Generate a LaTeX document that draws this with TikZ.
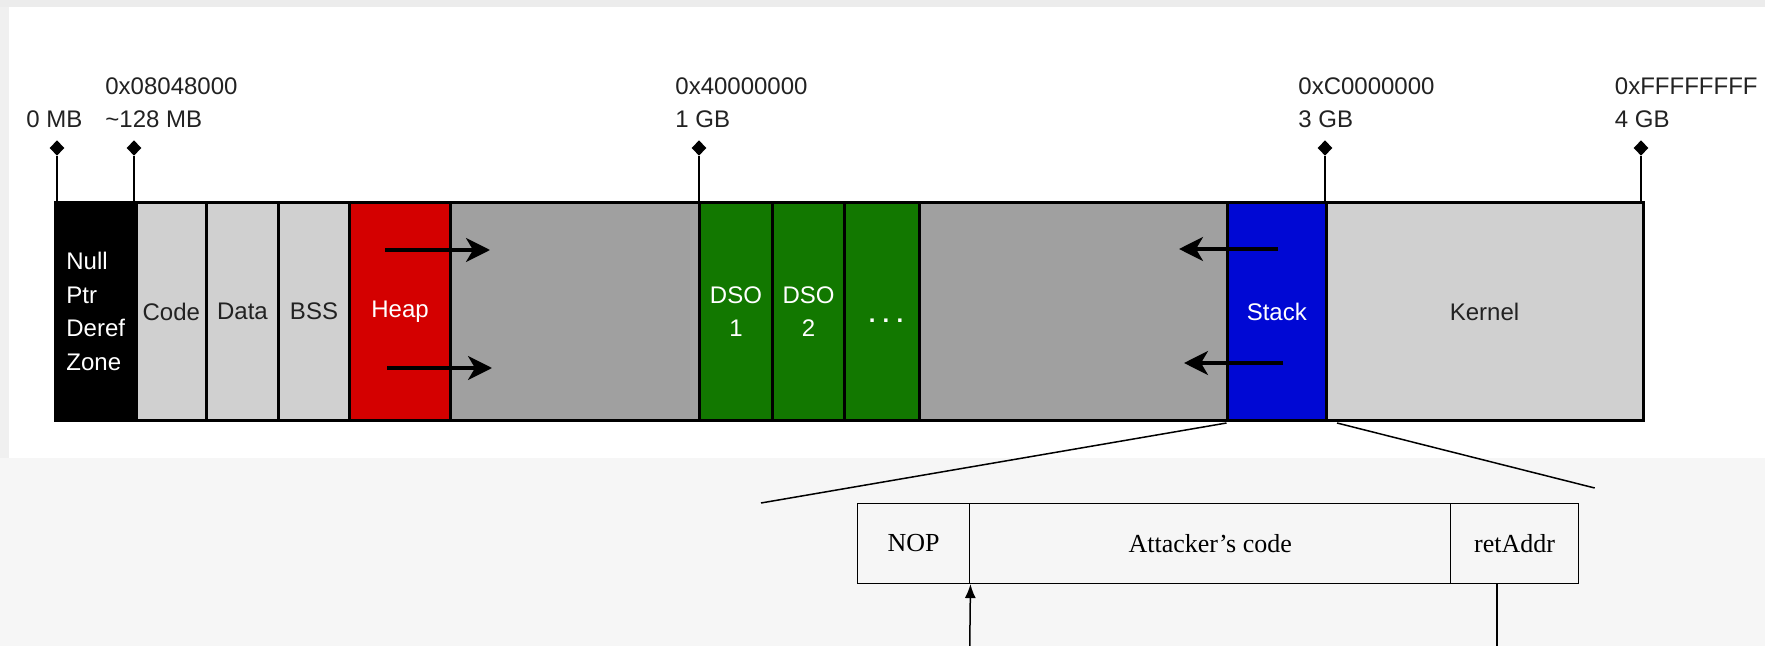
\documentclass[tikz,border=0pt]{standalone}
\usepackage{fontspec}
\setmainfont{Liberation Sans}
\newfontfamily\tnr{Liberation Serif}
\usetikzlibrary{shapes.geometric,arrows.meta}
\definecolor{cred}{HTML}{D40000}
\definecolor{cgreen}{HTML}{127800}
\definecolor{cblue}{HTML}{0008D4}
\definecolor{clight}{HTML}{D0D0D0}
\definecolor{cdark}{HTML}{A0A0A0}
\definecolor{ctop}{HTML}{ECECEC}
\definecolor{cleft}{HTML}{F0F0F0}
\definecolor{cbot}{HTML}{F6F6F6}
\definecolor{ctext}{HTML}{222222}
\begin{document}
\begin{tikzpicture}[x=0.5pt,y=-0.5pt,
  seg/.style={draw=black, line width=1.5pt, minimum height=108.5pt, inner sep=0pt,
    font=\fontsize{12}{16.8}\selectfont, align=center, text=ctext},
  tickmark/.style={diamond, fill=black, draw=none, inner sep=0pt, minimum width=7.5pt, minimum height=7.8pt},
  tickline/.style={line width=1.2pt, draw=black},
  ticklabel/.style={anchor=base west, inner sep=0pt, font=\fontsize{12}{14}\selectfont, text=ctext},
  growarrow/.style={line width=1.6pt, -{Stealth[length=12pt,width=12pt,inset=3.5pt]}},
  zoomline/.style={line width=0.75pt},
  cell/.style={draw=black, line width=0.75pt, minimum height=40pt, inner sep=0pt,
    font=\tnr\fontsize{13}{15}\selectfont},
]
\useasboundingbox (0,0) rectangle (1765,646);
% background
\fill[cbot] (0,0) rectangle (1765,646);
\fill[ctop] (0,0) rectangle (1765,7);
\fill[cleft] (0,7) rectangle (9,457.7);
\fill[white] (9,7) rectangle (1765,457.7);

% memory bar segments
\node[seg, fill=black, text=white, align=left, minimum width=40.25pt] (null) at (95.75,311.5) {Null\\Ptr\\Deref\\Zone};
\node[seg, fill=clight, minimum width=35.35pt] (code) at (171.35,311.5) {Code};
\node[seg, fill=clight, minimum width=35.75pt] (data) at (242.45,311.5) {Data};
\node[seg, fill=clight, minimum width=35.8pt] (bss) at (314,311.5) {BSS};
\node[seg, fill=cred, text=white, minimum width=50.3pt] (heap) at (400.1,311.5) {Heap};
\node[seg, fill=cdark, minimum width=124.5pt] (gapa) at (574.9,311.5) {};
\node[seg, fill=cgreen, text=white, minimum width=36.55pt] (dsoa) at (735.95,311.5) {DSO\\1};
\node[seg, fill=cgreen, text=white, minimum width=36.15pt] (dsob) at (808.65,311.5) {DSO\\2};
\node[seg, fill=cgreen, minimum width=37.1pt] (dsoc) at (881.9,311.5) {};
\node[seg, fill=cdark, minimum width=154.25pt] (gapb) at (1073.25,311.5) {};
\node[seg, fill=cblue, text=white, minimum width=49.25pt] (stack) at (1276.75,311.5) {Stack};
\node[seg, fill=clight, minimum width=158.5pt] (kernel) at (1484.5,311.5) {Kernel};
\node[anchor=base, inner sep=0pt, text=white, font=\bfseries\fontsize{12}{14}\selectfont] (dots) at (886,322) {.\kern3.6pt.\kern3.6pt.};

% growth arrows
\coordinate (hast) at (385,250); \coordinate (haen) at (490,250);
\coordinate (hbst) at (387,368); \coordinate (hben) at (492,368);
\coordinate (sast) at (1278,249); \coordinate (saen) at (1179,249);
\coordinate (sbst) at (1283,363); \coordinate (sben) at (1184,363);
\draw[growarrow] (hast) -- (haen);
\draw[growarrow] (hbst) -- (hben);
\draw[growarrow] (sast) -- (saen);
\draw[growarrow] (sbst) -- (sben);

% address ticks
\node[tickmark] (da) at (57,148) {};
\node[tickmark] (db) at (134,148) {};
\node[tickmark] (dc) at (699,148) {};
\node[tickmark] (dd) at (1325,148) {};
\node[tickmark] (de) at (1641,148) {};
\draw[tickline] (da) -- (da |- null.north);
\draw[tickline] (db) -- (db |- code.north);
\draw[tickline] (dc) -- (dc |- dsoa.north);
\draw[tickline] (dd) -- (dd |- kernel.north);
\draw[tickline] (de) -- (de |- kernel.north);

\node[ticklabel] (la) at (26,128) {0 MB};
\node[ticklabel] (lba) at (105,95) {0x08048000};
\node[ticklabel] (lbb) at (105,128) {\textasciitilde128 MB};
\node[ticklabel] (lca) at (675,95) {0x40000000};
\node[ticklabel] (lcb) at (675,128) {1 GB};
\node[ticklabel] (lda) at (1298,95) {0xC0000000};
\node[ticklabel] (ldb) at (1298,128) {3 GB};
\node[ticklabel] (lea) at (1614.5,95) {0xFFFFFFFF};
\node[ticklabel] (leb) at (1614.5,128) {4 GB};

% zoom lines
\coordinate (zla) at (1226.5,423); \coordinate (zlb) at (761,503);
\coordinate (zra) at (1337,423); \coordinate (zrb) at (1594.7,488);
\draw[zoomline] (zla) -- (zlb);
\draw[zoomline] (zra) -- (zrb);

% stack frame
\node[cell, minimum width=56.05pt] (nop) at (913.65,543.3) {NOP};
\node[cell, minimum width=240.5pt] (atk) at (1210.2,543.3) {Attacker’s code};
\node[cell, minimum width=63.85pt] (ret) at (1514.55,543.3) {retAddr};

\coordinate (ab) at (969.7,650);
\coordinate (rb) at (1497,650);
\draw[line width=0.75pt, -{Latex[length=7pt,width=5.5pt]}] (ab) -- (nop.south east);
\draw[line width=0.75pt] (ret.south -| rb) -- (rb);
\end{tikzpicture}
\end{document}
